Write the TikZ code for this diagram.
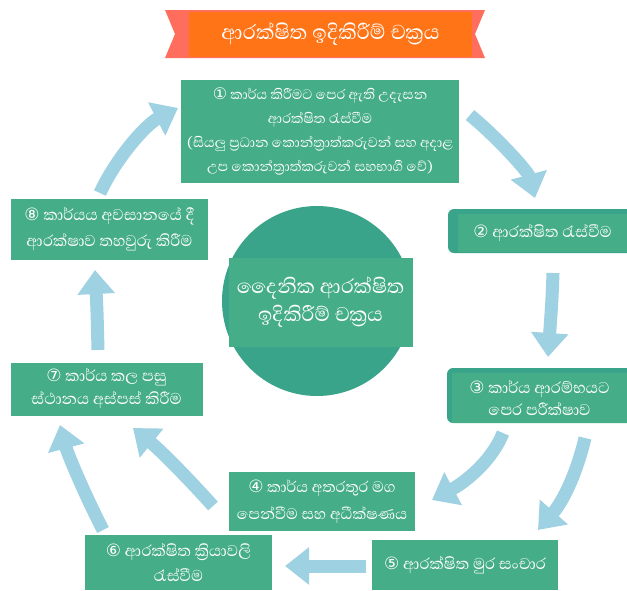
\documentclass[tikz,border=0pt]{standalone}
\usepackage{fontspec}
\newfontfamily\sinfont[Script=Sinhala]{Abhaya Libre}
\newfontfamily\numfont{DejaVu Sans}
\usetikzlibrary{arrows.meta}
\definecolor{boxgreen}{HTML}{45AD87}
\definecolor{hubgreen}{HTML}{3AA48A}
\definecolor{flowblue}{HTML}{9ED1E1}
\definecolor{ribbonred}{HTML}{FF6E5C}
\definecolor{titleorange}{HTML}{FF7417}
\newcommand{\circnum}[2][17]{{\numfont\fontsize{#1}{#1}\selectfont #2}}

\tikzset{
  stepbox/.style={fill=boxgreen, text=white, align=center, inner sep=0pt,
    font=\sinfont\fontsize{20}{25}\selectfont},
  flow/.style={draw=flowblue, line width=13pt,
    -{Triangle[width=36pt,length=24pt]}}
}

\begin{document}
\begin{tikzpicture}[x=1pt,y=-1pt]
            \useasboundingbox (0,0) rectangle (627,590);
            % arrow end points
            \coordinate (a1s) at (470,115);
            \coordinate (a1e) at (535,198);
            \coordinate (a2s) at (553,273);
            \coordinate (a2e) at (548,357);
            \coordinate (a3s) at (503,433);
            \coordinate (a3e) at (432,500);
            \coordinate (a4s) at (585,438);
            \coordinate (a4e) at (538,530);
            \coordinate (a5s) at (366,566);
            \coordinate (a5e) at (285,566);
            \coordinate (a6s) at (213,506);
            \coordinate (a6e) at (133,428);
            \coordinate (a7s) at (103,530);
            \coordinate (a7e) at (60,425);
            \coordinate (a8s) at (98,350);
            \coordinate (a8e) at (95,270);
            \coordinate (a9s) at (100,193);
            \coordinate (a9e) at (178,108);
            % arrows
            \draw [flow](a1s) .. controls (500,140) and (528,172) .. (a1e);
            \draw [flow](a2s) .. controls (552,300) .. (a2e);
            \draw [flow](a3s) .. controls (490,465) and (460,485) .. (a3e);
            \draw [flow](a4s) .. controls (575,480) and (560,505) .. (a4e);
            \draw [flow](a5s)--(a5e);
            \draw [flow](a6s) .. controls (185,475) and (160,450) .. (a6e);
            \draw [flow](a7s) .. controls (85,495) and (68,455) .. (a7e);
            \draw [flow](a8s) .. controls (97,310) .. (a8e);
            \draw [flow](a9s) .. controls (115,160) and (145,125) .. (a9e);
            % title ribbon
            \fill [ribbonred](165,10)--(485,10)--(475,34)--(485,58)--(165,58)--(175,34)--cycle;
            \node [fill=titleorange, minimum width=283pt, minimum height=45pt, inner sep=0pt,
              text=white, font=\sinfont\fontsize{26}{28}\selectfont] (title) at (330.5,34.5)
              {ආරක්ෂිත ඉදිකිරීම් චක්^^^^200dරය};
            % centre
            \node [circle, fill=hubgreen, minimum size=190pt, inner sep=0pt] (hubdisc) at (317,301) {};
            \node [stepbox, minimum width=184pt, minimum height=89pt,
              font=\sinfont\fontsize{25.5}{28}\selectfont] (hub) at (320.5,302)
              {දෛනික ආරක්ෂිත\\ඉදිකිරීම් චක්^^^^200dරය};
            % steps
            \node [stepbox, minimum width=278pt, minimum height=103pt,
              font=\sinfont\fontsize{17.5}{24}\selectfont] (s1) at (320,131.5)
              {\circnum[16]{①} කාර්ය කිරීමට පෙර ඇති උදැසන\\ආරක්ෂිත රැස්වීම\\
               (සියලු ප්^^^^200dරධාන කොන්ත්^^^^200dරාත්කරුවන් සහ අදාළ\\
               උප කොන්ත්^^^^200dරාත්කරුවන් සහභාගී වේ)};
            \fill [hubgreen, rounded corners=6pt](448,209) rectangle (640,253);
            \node [stepbox, minimum width=169pt, minimum height=38pt] (s2) at (542.5,233)
              {\circnum{②} ආරක්ෂිත රැස්වීම};
            \fill [hubgreen, rounded corners=6pt](447,368) rectangle (640,423);
            \node [stepbox, minimum width=175pt, minimum height=50pt,
              font=\sinfont\fontsize{20}{22}\selectfont] (s3) at (539.5,398)
              {\circnum{③} කාර්ය ආරම්භයට\\පෙර පරීක්ෂාව};
            \node [stepbox, minimum width=186pt, minimum height=59pt,
              font=\sinfont\fontsize{19.5}{27}\selectfont] (s4) at (322,501.5)
              {\circnum{④} කාර්ය අතරතුර මග\\පෙන්වීම සහ අධීක්ෂණය};
            \node [stepbox, minimum width=186pt, minimum height=50pt] (s5) at (465,565)
              {\circnum{⑤} ආරක්ෂිත මුර සංචාර};
            \node [stepbox, minimum width=187pt, minimum height=55pt] (s6) at (178.5,562.5)
              {\circnum{⑥} ආරක්ෂිත ක්^^^^200dරියාවලි\\රැස්වීම};
            \node [stepbox, minimum width=192pt, minimum height=53pt,
              font=\sinfont\fontsize{20}{23}\selectfont] (s7) at (106.5,389)
              {\circnum{⑦} කාර්ය කල පසු\\ස්ථානය අස්පස් කිරීම};
            \node [stepbox, minimum width=197pt, minimum height=61pt,
              font=\sinfont\fontsize{20}{26}\selectfont] (s8) at (109.5,229.5)
              {\circnum{⑧} කාර්යය අවසානයේ දී\\ආරක්ෂාව තහවුරු කිරීම};
            \end{tikzpicture}
\end{document}
